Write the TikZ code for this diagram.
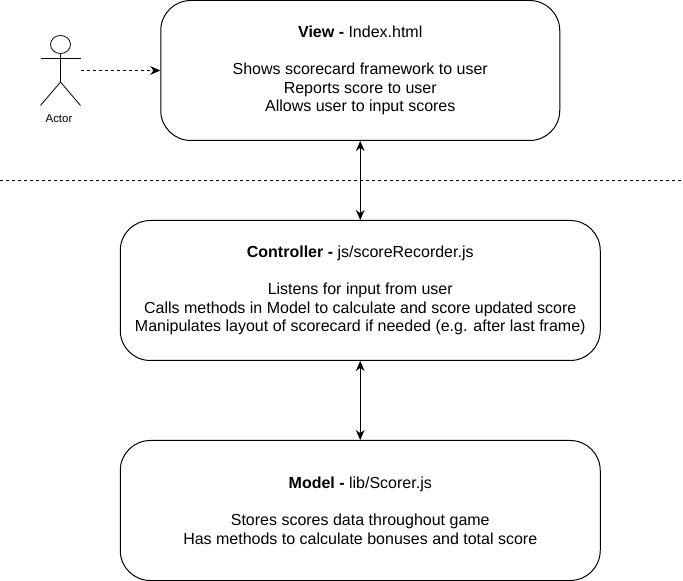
\documentclass[tikz,border=0pt]{standalone}
\usepackage{fontspec}
\setmainfont{Liberation Sans}
\usetikzlibrary{arrows.meta,shapes.geometric}
\tikzset{
    layerbox/.style={draw, line width=0.75pt, rounded corners=22.5pt, inner sep=0pt, align=center, font=\fontsize{12}{14}\selectfont},
    flow/.style={line width=0.75pt, {Stealth[length=7.5pt,width=6.5pt]}-{Stealth[length=7.5pt,width=6.5pt]}},
    usedash/.style={line width=0.6pt, dash pattern=on 2.25pt off 2.25pt},
    stick/.style={line width=0.6pt}
}
\begin{document}
\begin{tikzpicture}[x=0.75pt,y=0.75pt,yscale=-1,xscale=1]
            \useasboundingbox (0,0) rectangle (683,581);

            % Boxes
            \node (view) [layerbox, minimum width=299.25pt, minimum height=105pt] at (360.25,70.5) {\textbf{View -} Index.html\\[14pt]Shows scorecard framework to user\\Reports score to user\\Allows user to input scores};
            \node (controller) [layerbox, minimum width=360pt, minimum height=105pt] at (360.25,290.5) {\textbf{Controller -} js/scoreRecorder.js\\[14pt]Listens for input from user\\Calls methods in Model to calculate and score updated score\\Manipulates layout of scorecard if needed (e.g. after last frame)};
            \node (model) [layerbox, minimum width=360pt, minimum height=105pt] at (360.25,510.5) {\textbf{Model -} lib/Scorer.js\\[14pt]Stores scores data throughout game\\Has methods to calculate bonuses and total score};

            % Actor
            \node (head) [draw, stick, ellipse, minimum width=15pt, minimum height=13.5pt, inner sep=0pt] at (60.5,44.5) {};
            \coordinate (hip) at (60.5,82);
            \draw[stick] (head) -- (hip);
            \draw[stick] (40.5,58.5) -- (80.5,58.5); % Arms
            \draw[stick] (40.5,105.5) -- (hip) -- (80.5,105.5); % Legs
            \node (actor) [inner sep=0.75pt, font=\fontsize{8.6}{10}\selectfont] at (59,118.5) {Actor};
            \coordinate (actorhand) at (80.5,70.5);

            % Separator
            \coordinate (sepleft) at (0,180.5);
            \coordinate (sepright) at (683,180.5);
            \draw[usedash] (sepleft) -- (sepright);

            % Connectors
            \draw[usedash, -{Stealth[length=7.5pt,width=6.5pt]}] (actorhand) -- (view);
            \draw[flow] (view) -- (controller);
            \draw[flow] (controller) -- (model);
\end{tikzpicture}
\end{document}
